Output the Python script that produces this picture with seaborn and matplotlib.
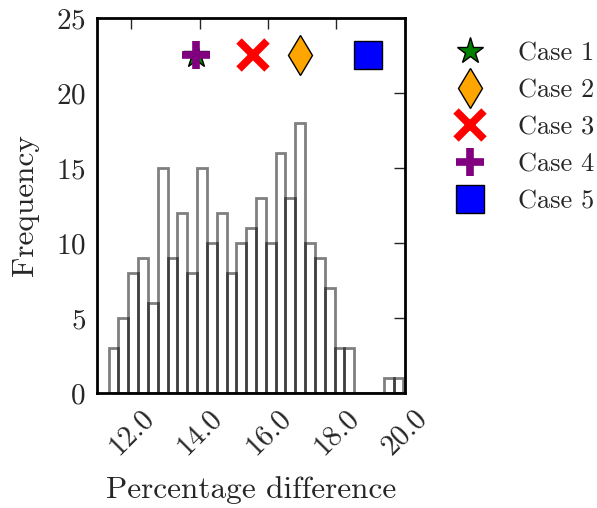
import numpy as np
import pandas as pd
import matplotlib
matplotlib.use("Agg")
import matplotlib.pyplot as plt
import seaborn as sns

# histogram: 30 equal bins between the data min and max
bin_lo = 11.338
bin_hi = 19.961
counts = [3, 5, 8, 9, 6, 15, 9, 12, 8, 15,
          10, 12, 8, 10, 11, 13, 10, 16, 13, 18,
          10, 9, 7, 3, 3, 0, 0, 0, 1, 1]

# markers for the individual cases
case_labels = ['Case 1', 'Case 2', 'Case 3', 'Case 4', 'Case 5']
case_x = [13.89, 16.94, 15.57, 13.89, 18.93]
case_y = [22.5, 22.5, 22.5, 22.5, 22.5]
case_markers = ['*', 'd', 'x', '+', 's']
case_colors = ['green', 'orange', 'red', 'purple', 'blue']

xticks = [12.0, 14.0, 16.0, 18.0, 20.0]
yticks = [0, 5, 10, 15, 20, 25]

sns.set_style('white')
plt.rcParams['font.family'] = 'serif'
plt.rcParams['font.serif'] = ['cmr10', 'DejaVu Serif']
plt.rcParams['mathtext.fontset'] = 'cm'
plt.rcParams['axes.formatter.use_mathtext'] = True

edges = np.linspace(bin_lo, bin_hi, len(counts) + 1)
df = pd.DataFrame({'pct': (edges[:-1] + edges[1:]) / 2, 'n': counts})

fig = plt.figure(figsize=(5.97, 5.08), dpi=100)
ax = fig.add_axes([0.1625, 0.2264, 0.5155, 0.7382])

sns.histplot(data=df, x='pct', weights='n', bins=len(counts),
             binrange=(bin_lo, bin_hi), fill=False,
             color='black', alpha=0.5, linewidth=2, ax=ax)

for lab, x, y, m, c in zip(case_labels, case_x, case_y, case_markers, case_colors):
    if m in ('x', '+'):
        ax.plot(x, y, linestyle='none', marker=m, markersize=20, color=c,
                markeredgewidth=5.5, label=lab, zorder=5)
    else:
        ax.plot(x, y, linestyle='none', marker=m, markersize=20,
                markerfacecolor=c, markeredgecolor='black',
                markeredgewidth=1, label=lab, zorder=5)

ax.set_xlim(11, 20)
ax.set_ylim(0, 25)
ax.set_xticks(xticks)
ax.set_xticklabels([f'{t:.1f}' for t in xticks], rotation=45)
ax.set_yticks(yticks)
ax.tick_params(direction='in', length=8, width=1, top=True, right=True,
               labelsize=21, pad=8)
for s in ax.spines.values():
    s.set_linewidth(2)
    s.set_color('black')
ax.set_xlabel('Percentage difference', fontsize=22.5, labelpad=12)
ax.set_ylabel('Frequency', fontsize=22.5, labelpad=12)

ax.legend(loc='upper left', bbox_to_anchor=(1.05, 1.0), frameon=False,
          numpoints=1, fontsize=19, handlelength=2, labelspacing=0.5)

fig.savefig('out.png', dpi=100)
